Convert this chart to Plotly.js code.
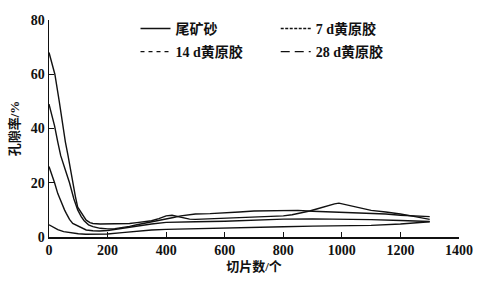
<!DOCTYPE html>
<html><head><meta charset="utf-8">
<script src="https://cdn.plot.ly/plotly-3.0.1.min.js"></script>
<style>html,body{margin:0;padding:0;background:#fff}#c{width:479px;height:284px}</style>
</head><body><div id="c"></div>
<script>
const seriesNames = ['尾矿砂', '7 d黄原胶', '14 d黄原胶', '28 d黄原胶'];
const xTail = [0,15,30,50,75,100,125,150,175,200,250,300,350,400,500,600,700,800,900,1000,1100,1200,1250,1300];
const yTail = [4.5,3.5,2.7,2,1.5,1.2,1,1,1,1.1,1.6,2.2,2.6,2.8,3.1,3.3,3.6,3.8,4,4.1,4.3,4.8,5.1,5.6];
const x7 = [0,5,10,19,30,42,53,59,70,81,92,104,115,127,150,172,200,230,260,300,350,400,450,500,600,700,800,900,1000,1100,1200,1250,1300];
const y7 = [26,24.5,23,20,16,12.5,10,8.7,6.5,5,4.4,4,3.2,2.6,2.3,2.2,2.4,2.9,3.4,4,4.8,5.4,5.6,5.6,5.8,6.2,6.6,6.7,6.6,6.4,6.1,5.9,5.7];
const x14 = [0,10,19,30,40,55,70,85,98,110,120,135,150,175,200,225,250,275,300,325,350,375,400,425,450,475,500,550,600,650,700,750,800,850,900,950,1000,1050,1100,1150,1200,1250,1300];
const y14 = [49,45,41,35,30,25,20,14,10,7.5,6,4.5,3.8,3.2,3,3.1,3.4,3.9,4.5,5,5.6,6.1,6.5,7.2,7.8,8.2,8.5,8.6,8.8,9.2,9.6,9.6,9.6,9.8,9.5,9.3,9.2,9,8.8,8.5,8,7.8,7.5];
const x28 = [0,10,20,35,47,56,65,73,81,90,98,104,115,127,140,150,175,200,225,250,275,300,325,350,375,400,420,440,460,480,500,550,600,650,700,750,800,830,860,890,920,950,975,990,1010,1040,1070,1100,1150,1200,1250,1300];
const y28 = [68,64,60,50,41,35,30,25,20,15,11,10,8,6.2,5.3,5,4.8,4.8,4.9,4.9,5,5.3,5.6,6,6.8,7.8,8,7.6,7,6.6,6.5,6.7,6.8,7,7.2,7.5,7.8,8.2,8.8,9.6,10.5,11.5,12.2,12.5,12,11.2,10.5,9.8,9.2,8.5,7.5,6.5];
const xTicks = [0,200,400,600,800,1000,1200,1400];
const yTicks = [0,20,40,60,80];

const xs = [xTail, x7, x14, x28];
const ys = [yTail, y7, y14, y28];
const dashes = ['solid', '3px,1.5px', '4px,4px', '9px,5px'];
const legendIds = ['legend', 'legend2', 'legend', 'legend2'];
const fontFam = 'Liberation Serif, Times New Roman, Noto Sans CJK SC, serif';
const traces = [];
for (let i = 0; i < 4; i++) {
  traces.push({x: xs[i], y: ys[i], type: 'scatter', mode: 'lines', showlegend: false,
    line: {color: '#111', width: 1.4}});
}
for (let i = 0; i < 4; i++) {
  traces.push({x: [null], y: [null], type: 'scatter', mode: 'lines', name: seriesNames[i],
    legend: legendIds[i], legendgroup: 'g' + i,
    line: {color: '#111', width: 1.4, dash: dashes[i]}});
}
const legFont = {family: fontFam, size: 14, weight: 'bold', color: '#111'};
const layout = {
  width: 479, height: 284,
  margin: {l: 49, r: 20, t: 20, b: 47},
  paper_bgcolor: '#fff', plot_bgcolor: '#fff',
  font: {family: fontFam, color: '#111', size: 13, weight: 'bold'},
  xaxis: {range: [0, 1400], tickvals: xTicks, ticktext: xTicks.map(String),
    showline: true, linecolor: '#111', linewidth: 1.5, ticks: 'inside', ticklen: 5, tickcolor: '#111',
    showgrid: false, zeroline: false,
    tickfont: {family: fontFam, size: 14, weight: 'bold', color: '#111'},
    title: {text: '切片数/个', font: {family: fontFam, size: 13, weight: 'bold'}, standoff: 4}},
  yaxis: {range: [0, 80], tickvals: yTicks, ticktext: yTicks.map(String),
    showline: true, linecolor: '#111', linewidth: 1.5, ticks: 'inside', ticklen: 5, tickcolor: '#111',
    showgrid: false, zeroline: false,
    tickfont: {family: fontFam, size: 14, weight: 'bold', color: '#111'},
    title: {text: '孔隙率/%', font: {family: fontFam, size: 13, weight: 'bold'}, standoff: 8}},
  legend: {x: 0.211, y: 1.033, xanchor: 'left', yanchor: 'top', traceorder: 'grouped', tracegroupgap: 2,
    bgcolor: 'rgba(0,0,0,0)', font: legFont},
  legend2: {x: 0.553, y: 1.033, xanchor: 'left', yanchor: 'top', traceorder: 'grouped', tracegroupgap: 2,
    bgcolor: 'rgba(0,0,0,0)', font: legFont}
};
Plotly.newPlot('c', traces, layout, {displayModeBar: false, staticPlot: true});
</script></body></html>
